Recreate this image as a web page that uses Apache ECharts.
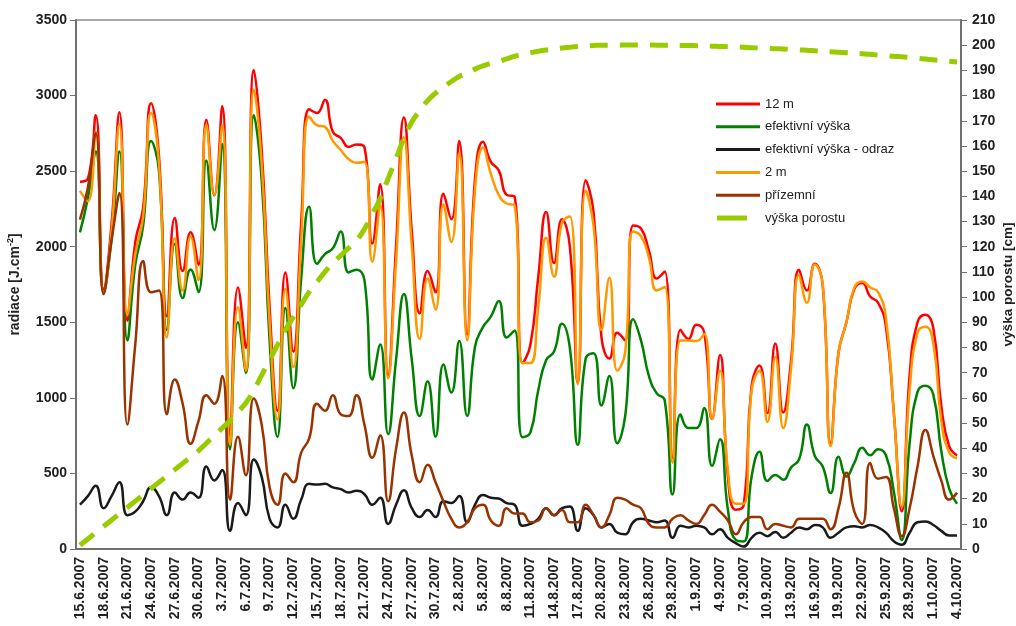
<!DOCTYPE html>
<html>
<head>
<meta charset="utf-8">
<title>Radiace a výška porostu 2007</title>
<script src="https://cdn.jsdelivr.net/npm/echarts@6/dist/echarts.min.js"></script>
<style>
  html, body { margin: 0; padding: 0; background: #fff; }
  #chart { width: 1016px; height: 626px; }
</style>
</head>
<body>
<div id="chart"></div>
<script>
// Daily dates of the measurement season
const dates = [
  '15.6.2007','16.6.2007','17.6.2007','18.6.2007','19.6.2007','20.6.2007','21.6.2007','22.6.2007','23.6.2007','24.6.2007',
  '25.6.2007','26.6.2007','27.6.2007','28.6.2007','29.6.2007','30.6.2007','1.7.2007','2.7.2007','3.7.2007','4.7.2007',
  '5.7.2007','6.7.2007','7.7.2007','8.7.2007','9.7.2007','10.7.2007','11.7.2007','12.7.2007','13.7.2007','14.7.2007',
  '15.7.2007','16.7.2007','17.7.2007','18.7.2007','19.7.2007','20.7.2007','21.7.2007','22.7.2007','23.7.2007','24.7.2007',
  '25.7.2007','26.7.2007','27.7.2007','28.7.2007','29.7.2007','30.7.2007','31.7.2007','1.8.2007','2.8.2007','3.8.2007',
  '4.8.2007','5.8.2007','6.8.2007','7.8.2007','8.8.2007','9.8.2007','10.8.2007','11.8.2007','12.8.2007','13.8.2007',
  '14.8.2007','15.8.2007','16.8.2007','17.8.2007','18.8.2007','19.8.2007','20.8.2007','21.8.2007','22.8.2007','23.8.2007',
  '24.8.2007','25.8.2007','26.8.2007','27.8.2007','28.8.2007','29.8.2007','30.8.2007','31.8.2007','1.9.2007','2.9.2007',
  '3.9.2007','4.9.2007','5.9.2007','6.9.2007','7.9.2007','8.9.2007','9.9.2007','10.9.2007','11.9.2007','12.9.2007',
  '13.9.2007','14.9.2007','15.9.2007','16.9.2007','17.9.2007','18.9.2007','19.9.2007','20.9.2007','21.9.2007','22.9.2007',
  '23.9.2007','24.9.2007','25.9.2007','26.9.2007','27.9.2007','28.9.2007','29.9.2007','30.9.2007','1.10.2007','2.10.2007',
  '3.10.2007','4.10.2007'
];

// Daily radiation sums [J.cm-2]
const rad12m = [
  2430, 2450, 2870, 1720, 2150, 2890, 1510, 2030, 2260, 2950,
  2600, 1540, 2190, 1840, 2095, 1880, 2840, 2340, 2930, 750,
  1730, 1330, 3170, 2640, 1600, 915, 1830, 1306, 2160, 2910,
  2885, 2970, 2760, 2720, 2660, 2677, 2659, 2021, 2413, 1150,
  2000, 2855, 2100, 1560, 1840, 1698, 2350, 2182, 2700, 1420,
  2450, 2694, 2562, 2505, 2343, 2332, 1230, 1350, 1800, 2230,
  1892, 2182, 2000, 1100, 2440, 2228, 1400, 1260, 1430, 1380,
  2140, 2120, 1975, 1790, 1836, 600, 1450, 1390, 1484, 1433,
  860, 1283, 480, 260, 290, 1080, 1214, 900, 1360, 903,
  1250, 1848, 1710, 1887, 1744, 700, 1300, 1500, 1720, 1760,
  1670, 1630, 1470, 900, 250, 1150, 1500, 1550, 1460, 950,
  680, 620
];
const radEfektivni = [
  2095, 2320, 2630, 1700, 2050, 2630, 1380, 1880, 2140, 2700,
  2500, 1450, 2020, 1660, 1850, 1700, 2570, 2110, 2680, 660,
  1500, 1165, 2870, 2440, 1380, 742, 1594, 1064, 1790, 2265,
  1887, 1951, 1990, 2100, 1830, 1848, 1779, 1122, 1353, 760,
  1250, 1687, 1250, 880, 1110, 742, 1220, 1035, 1376, 880,
  1340, 1468, 1537, 1641, 1399, 1445, 740, 770, 1050, 1250,
  1306, 1491, 1330, 690, 1260, 1295, 950, 1145, 700, 880,
  1520, 1380, 1145, 1030, 984, 360, 890, 800, 800, 933,
  550, 726, 260, 60, 50, 480, 643, 450, 490, 459,
  540, 592, 823, 615, 546, 370, 610, 480, 570, 670,
  620, 660, 620, 380, 60, 700, 1040, 1080, 1020, 650,
  400, 300
];
const radOdraz = [
  293, 350, 419, 270, 350, 442, 224, 247, 316, 408,
  350, 224, 373, 327, 373, 339, 546, 454, 523, 120,
  304, 224, 592, 477, 200, 143, 293, 200, 327, 431,
  426, 431, 408, 396, 373, 385, 362, 293, 339, 166,
  293, 389, 270, 212, 258, 212, 316, 304, 350, 177,
  293, 357, 339, 334, 304, 293, 154, 166, 200, 270,
  224, 270, 281, 120, 270, 224, 143, 166, 108, 97,
  177, 200, 189, 177, 189, 74, 154, 143, 154, 143,
  97, 131, 74, 39, 16, 74, 108, 85, 113, 74,
  108, 143, 131, 159, 143, 74, 108, 143, 150, 143,
  159, 143, 108, 51, 28, 108, 177, 182, 159, 120,
  90, 90
];
const rad2m = [
  2370, 2300, 2760, 1690, 2100, 2810, 1550, 1950, 2200, 2885,
  2550, 1400, 2055, 1710, 2067, 1779, 2809, 2343, 2804, 690,
  1600, 1180, 3040, 2550, 1500, 857, 1721, 1203, 2044, 2862,
  2804, 2793, 2700, 2640, 2580, 2555, 2562, 1901, 2274, 1130,
  1900, 2724, 2000, 1390, 1790, 1583, 2280, 2032, 2620, 1380,
  2380, 2654, 2482, 2343, 2286, 2274, 1230, 1230, 1600, 2060,
  1802, 2159, 2200, 1090, 2370, 2136, 1450, 1795, 1180, 1300,
  2100, 2070, 1929, 1710, 1733, 570, 1380, 1380, 1376, 1422,
  860, 1180, 520, 300, 300, 1050, 1180, 840, 1270, 800,
  1200, 1813, 1629, 1883, 1756, 680, 1300, 1500, 1730, 1770,
  1730, 1700, 1530, 900, 280, 1050, 1430, 1470, 1360, 850,
  640, 600
];
const radPrizemni = [
  2180, 2390, 2750, 1687, 2044, 2355, 823, 1353, 1906, 1698,
  1710, 892, 1122, 961, 696, 846, 1018, 961, 1145, 327,
  742, 488, 995, 823, 408, 293, 500, 442, 638, 730,
  961, 915, 1018, 892, 880, 1018, 823, 604, 753, 316,
  661, 903, 615, 442, 558, 442, 316, 200, 143, 177,
  270, 293, 189, 154, 270, 235, 235, 177, 189, 270,
  224, 258, 177, 177, 293, 224, 143, 224, 339, 327,
  293, 270, 166, 143, 143, 200, 224, 189, 166, 224,
  293, 247, 189, 97, 177, 212, 212, 131, 166, 154,
  143, 200, 200, 200, 200, 131, 270, 505, 247, 166,
  569, 465, 477, 270, 85, 270, 546, 788, 615, 454,
  327, 373
];
// Canopy height [cm]
const vyskaPorostu = [
  1.5, 4, 6.5, 9, 11.5, 14, 16.5, 19, 21.5, 24,
  26.5, 29, 31.5, 34, 36.5, 39, 42, 45, 48, 51,
  54.5, 58, 63, 69, 75, 81, 87, 92, 97, 102,
  106, 110, 113.5, 116.5, 119.5, 122.5, 127, 133, 139, 147,
  155, 163, 169.5, 174, 178, 181, 183.3, 185.6, 187.6, 188.8,
  190.5, 191.8, 192.8, 193.5, 194.6, 195.6, 196.4, 197, 197.6, 198.1,
  198.5, 198.9, 199.2, 199.5, 199.7, 199.9, 200, 200, 200, 200.1,
  200.1, 200.1, 200.1, 200, 200, 200, 199.9, 199.9, 199.8, 199.7,
  199.6, 199.5, 199.4, 199.3, 199.2, 199, 198.9, 198.8, 198.6, 198.5,
  198.3, 198.1, 198, 197.8, 197.6, 197.4, 197.2, 197, 196.8, 196.6,
  196.4, 196.1, 195.9, 195.6, 195.4, 195.1, 194.8, 194.5, 194.2, 193.9,
  193.6, 193.3
];

const seriesNames = ['12 m', 'efektivní výška', 'efektivní výška - odraz', '2 m', 'přízemní', 'výška porostu'];

const FONT = '"Liberation Sans", Arial, sans-serif';
const TEXT = '#222222';
const AXIS = '#707070';

// plain integer tick labels, no digit grouping
const plainNumber = function (v) { return String(v); };

function radLine(name, data, color) {
  return {
    name: name,
    type: 'line',
    yAxisIndex: 0,
    data: data,
    color: color,
    smooth: 0.5,
    symbol: 'none',
    lineStyle: { color: color, width: 2.5 },
    silent: true
  };
}

const chart = echarts.init(document.getElementById('chart'), null, { renderer: 'canvas' });

chart.setOption({
  animation: false,
  backgroundColor: '#ffffff',
  textStyle: { fontFamily: FONT },
  grid: {
    left: 76, right: 55, top: 20, bottom: 77,
    containLabel: false, outerBoundsMode: 'none',
    show: true, borderColor: '#a8a8a8', borderWidth: 2, backgroundColor: 'transparent'
  },
  legend: [
    {
      orient: 'vertical', left: 716, top: 96, padding: 0,
      itemWidth: 44, itemHeight: 3, itemGap: 6.8,
      icon: 'rect',
      selectedMode: false,
      data: seriesNames.slice(0, 5),
      textStyle: { fontSize: 13, color: TEXT, fontFamily: FONT, lineHeight: 16 }
    },
    {
      orient: 'vertical', left: 717, top: 210, padding: 0,
      itemWidth: 30, itemHeight: 5,
      icon: 'rect',
      selectedMode: false,
      data: [seriesNames[5]],
      textStyle: { fontSize: 13, color: TEXT, fontFamily: FONT, lineHeight: 16, padding: [0, 0, 0, 13] }
    }
  ],
  xAxis: {
    type: 'category',
    data: dates,
    boundaryGap: true,
    axisLine: { lineStyle: { color: AXIS, width: 2 } },
    axisTick: { interval: 0, length: 5, lineStyle: { color: AXIS, width: 1 } },
    axisLabel: {
      interval: 2, rotate: 90, margin: 8,
      fontSize: 14, fontWeight: 'bold', color: TEXT, fontFamily: FONT
    },
    splitLine: { show: false }
  },
  yAxis: [
    {
      type: 'value', position: 'left',
      min: 0, max: 3500, interval: 500,
      axisLine: { show: true, lineStyle: { color: AXIS, width: 2 } },
      axisTick: { show: true, length: 6, lineStyle: { color: AXIS, width: 1 } },
      axisLabel: { fontSize: 14, fontWeight: 'bold', color: TEXT, margin: 9, fontFamily: FONT, formatter: plainNumber },
      splitLine: { show: false },
      name: '{n|radiace [J.cm}{s|-2}{n|]}',
      nameLocation: 'middle', nameRotate: 90, nameGap: 52,
      nameTextStyle: {
        rich: {
          n: { fontSize: 14, fontWeight: 'bold', color: TEXT, fontFamily: FONT, lineHeight: 18 },
          s: { fontSize: 9, fontWeight: 'bold', color: TEXT, fontFamily: FONT, verticalAlign: 'top', lineHeight: 12 }
        }
      }
    },
    {
      type: 'value', position: 'right',
      min: 0, max: 210, interval: 10,
      axisLine: { show: true, lineStyle: { color: AXIS, width: 2 } },
      axisTick: { show: true, length: 6, lineStyle: { color: AXIS, width: 1 } },
      axisLabel: { fontSize: 14, fontWeight: 'bold', color: TEXT, margin: 11, fontFamily: FONT, formatter: plainNumber },
      splitLine: { show: false },
      name: 'výška porostu [cm]',
      nameLocation: 'middle', nameRotate: 90, nameGap: 40, nameMoveOverlap: false,
      nameTextStyle: { fontSize: 13.5, fontWeight: 'bold', color: TEXT, fontFamily: FONT }
    }
  ],
  series: [
    radLine(seriesNames[0], rad12m, '#ff0000'),
    radLine(seriesNames[1], radEfektivni, '#008000'),
    radLine(seriesNames[2], radOdraz, '#1a1a1a'),
    radLine(seriesNames[3], rad2m, '#ff9900'),
    radLine(seriesNames[4], radPrizemni, '#993300'),
    {
      name: seriesNames[5],
      type: 'line',
      yAxisIndex: 1,
      data: vyskaPorostu,
      color: '#99cc00',
      smooth: 0.5,
      symbol: 'none',
      lineStyle: { color: '#99cc00', width: 5, type: [18, 12], cap: 'butt' },
      silent: true
    }
  ]
});
</script>
</body>
</html>
